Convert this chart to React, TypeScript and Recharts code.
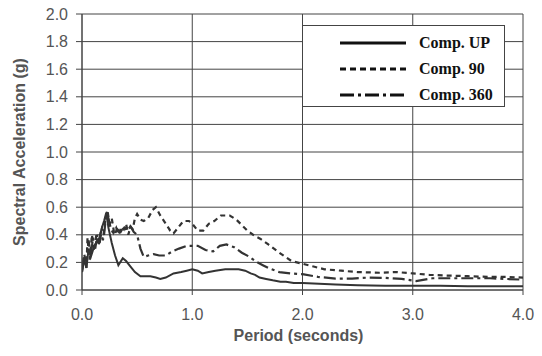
import React from 'react';
import { LineChart, Line, XAxis, YAxis, CartesianGrid, Legend } from 'recharts';

// Comp. UP (solid)
const periodsUp = [0.0,0.02,0.04,0.06,0.08,0.10,0.12,0.14,0.16,0.18,0.20,0.22,0.24,0.27,0.30,0.33,0.37,0.40,0.44,0.48,0.53,0.58,0.62,0.67,0.71,0.76,0.83,0.90,0.95,1.0,1.05,1.09,1.15,1.21,1.30,1.42,1.48,1.53,1.57,1.61,1.67,1.73,1.80,1.85,1.92,2.0,2.15,2.3,2.5,2.75,3.0,3.25,3.5,3.75,4.0];
const accelUp = [0.13,0.22,0.16,0.30,0.24,0.29,0.33,0.36,0.38,0.45,0.50,0.56,0.45,0.34,0.25,0.18,0.23,0.21,0.17,0.13,0.10,0.10,0.10,0.09,0.08,0.09,0.12,0.13,0.14,0.15,0.14,0.12,0.13,0.14,0.15,0.15,0.14,0.12,0.11,0.09,0.08,0.07,0.06,0.06,0.05,0.05,0.045,0.04,0.035,0.03,0.03,0.03,0.028,0.027,0.027];

// Comp. 90 (dotted)
const periods90 = [0.0,0.02,0.04,0.05,0.07,0.09,0.11,0.13,0.15,0.17,0.19,0.21,0.23,0.25,0.27,0.29,0.31,0.33,0.36,0.38,0.40,0.42,0.44,0.46,0.48,0.50,0.53,0.56,0.60,0.64,0.67,0.71,0.76,0.80,0.83,0.87,0.92,0.97,1.0,1.05,1.10,1.15,1.20,1.26,1.34,1.40,1.45,1.50,1.57,1.62,1.69,1.79,1.9,2.0,2.1,2.2,2.35,2.5,2.7,2.85,3.0,3.15,3.3,3.5,3.7,3.85,4.0];
const accel90 = [0.13,0.25,0.16,0.38,0.22,0.40,0.28,0.40,0.32,0.42,0.36,0.50,0.58,0.48,0.52,0.42,0.45,0.40,0.46,0.44,0.48,0.40,0.46,0.44,0.52,0.55,0.51,0.50,0.52,0.58,0.60,0.54,0.48,0.43,0.41,0.45,0.50,0.50,0.48,0.43,0.43,0.48,0.50,0.54,0.54,0.51,0.47,0.43,0.39,0.37,0.33,0.27,0.21,0.19,0.17,0.15,0.14,0.13,0.125,0.13,0.12,0.11,0.105,0.10,0.095,0.095,0.09];

// Comp. 360 (dash-dot)
const periods360 = [0.0,0.02,0.04,0.06,0.08,0.10,0.12,0.14,0.16,0.18,0.20,0.22,0.24,0.26,0.29,0.32,0.35,0.38,0.41,0.44,0.47,0.50,0.53,0.56,0.60,0.65,0.70,0.76,0.82,0.88,0.95,1.0,1.05,1.12,1.19,1.25,1.31,1.38,1.45,1.52,1.58,1.64,1.70,1.79,1.9,2.0,2.14,2.3,2.45,2.6,2.75,2.9,3.03,3.18,3.4,3.7,4.0];
const accel360 = [0.15,0.26,0.18,0.36,0.25,0.38,0.30,0.40,0.34,0.44,0.40,0.55,0.52,0.45,0.40,0.44,0.42,0.46,0.43,0.46,0.42,0.40,0.30,0.24,0.25,0.26,0.25,0.25,0.28,0.30,0.32,0.32,0.32,0.29,0.28,0.32,0.33,0.31,0.27,0.24,0.205,0.18,0.156,0.13,0.12,0.115,0.095,0.083,0.083,0.09,0.088,0.08,0.065,0.085,0.085,0.085,0.075];

const xTicks = [0, 1, 2, 3, 4];
const yTicks = [0, 0.2, 0.4, 0.6, 0.8, 1.0, 1.2, 1.4, 1.6, 1.8, 2.0];
const seriesNames = ['Comp. UP', 'Comp. 90', 'Comp. 360'];

const toRows = (xs: number[], ys: number[]) => xs.map((x, i) => ({ x, y: ys[i] }));
const upData = toRows(periodsUp, accelUp);
const data90 = toRows(periods90, accel90);
const data360 = toRows(periods360, accel360);

const INK = '#333';
const GRID = '#444';
const TEXT = '#555';
const dashes = ['', '5 4', '12 4 3 4'];
const legendDashes = ['', '6 4', '14 4 3 4'];

const LegendBox = () => (
  <div
    style={{
      width: 203,
      height: 82,
      border: '1px solid #444',
      background: '#fff',
      position: 'relative',
      boxSizing: 'border-box',
    }}
  >
    {seriesNames.map((name, i) => (
      <div key={name} style={{ position: 'absolute', left: 0, top: 17 + i * 26 - 10, height: 20, width: 203 }}>
        <svg width={80} height={20} style={{ position: 'absolute', left: 30, top: 0 }}>
          <line x1={7} y1={10} x2={73} y2={10} stroke="#111" strokeWidth={3} strokeDasharray={legendDashes[i] || undefined} />
        </svg>
        <span
          style={{
            position: 'absolute',
            left: 116,
            top: 0,
            lineHeight: '20px',
            fontFamily: '"Liberation Serif", "Times New Roman", serif',
            fontWeight: 'bold',
            fontSize: 16,
            color: '#111',
            whiteSpace: 'nowrap',
          }}
        >
          {name}
        </span>
      </div>
    ))}
  </div>
);

const axisFont = '"Liberation Sans", Arial, sans-serif';

export default function App() {
  return (
    <div style={{ position: 'absolute', left: 0, top: 0, width: 542, height: 356, background: '#fff' }}>
      <LineChart width={542} height={356} margin={{ top: 14, right: 19, left: 0, bottom: 0 }}>
        <CartesianGrid stroke={GRID} strokeWidth={1} horizontalValues={yTicks} verticalValues={xTicks} />
        <XAxis
          dataKey="x"
          type="number"
          domain={[0, 4]}
          ticks={xTicks}
          interval={0}
          tickFormatter={(v: number) => v.toFixed(1)}
          height={66}
          tickSize={5}
          tickMargin={14}
          axisLine={{ stroke: GRID }}
          tickLine={{ stroke: GRID }}
          tick={{ fill: TEXT, fontSize: 16, fontFamily: axisFont }}
          allowDataOverflow
          label={{
            value: 'Period (seconds)',
            position: 'insideBottom',
            offset: 15,
            dx: -4,
            style: { fill: TEXT, fontSize: 16, fontWeight: 'bold', fontFamily: axisFont },
          }}
        />
        <YAxis
          type="number"
          domain={[0, 2]}
          ticks={yTicks}
          interval={0}
          tickFormatter={(v: number) => v.toFixed(1)}
          width={82}
          tickSize={6}
          tickMargin={8}
          axisLine={{ stroke: GRID }}
          tickLine={{ stroke: GRID }}
          tick={{ fill: TEXT, fontSize: 16, fontFamily: axisFont }}
          allowDataOverflow
          label={{
            value: 'Spectral Acceleration (g)',
            angle: -90,
            position: 'insideLeft',
            offset: 19,
            style: { textAnchor: 'middle', fill: TEXT, fontSize: 16, fontWeight: 'bold', fontFamily: axisFont },
          }}
        />
        <Legend
          layout="horizontal"
          verticalAlign="middle"
          align="center"
          content={() => <LegendBox />}
          wrapperStyle={{ position: 'absolute', left: 302, top: 25, width: 203, height: 82 }}
        />
        <Line data={upData} dataKey="y" name={seriesNames[0]} stroke={INK} strokeWidth={2} dot={false} isAnimationActive={false} type="linear" />
        <Line data={data90} dataKey="y" name={seriesNames[1]} stroke={INK} strokeWidth={2.2} strokeDasharray={dashes[1]} dot={false} isAnimationActive={false} type="linear" />
        <Line data={data360} dataKey="y" name={seriesNames[2]} stroke={INK} strokeWidth={2.2} strokeDasharray={dashes[2]} dot={false} isAnimationActive={false} type="linear" />
      </LineChart>
    </div>
  );
}
